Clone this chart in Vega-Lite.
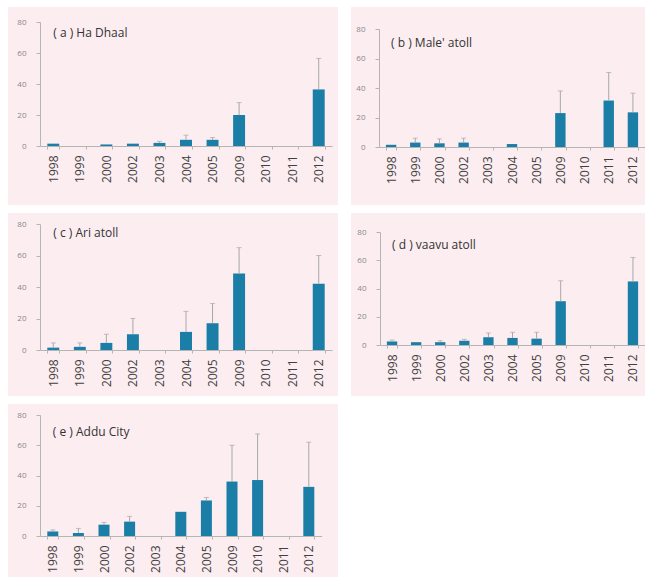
{
  "$schema": "https://vega.github.io/schema/vega-lite/v6.json",
  "padding": {"left": 2, "top": 7, "right": 0, "bottom": 0},
  "background": "white",
  "datasets": {
    "d": [
      {"panel": "a", "year": "1998", "value": 1.5, "err": null},
      {"panel": "a", "year": "2000", "value": 1, "err": null},
      {"panel": "a", "year": "2002", "value": 1.5, "err": null},
      {"panel": "a", "year": "2003", "value": 2, "err": 3},
      {"panel": "a", "year": "2004", "value": 4, "err": 7},
      {"panel": "a", "year": "2005", "value": 4, "err": 5.5},
      {"panel": "a", "year": "2009", "value": 20, "err": 28},
      {"panel": "a", "year": "2012", "value": 36.5, "err": 56.5},
      {"panel": "b", "year": "1998", "value": 1.5, "err": null},
      {"panel": "b", "year": "1999", "value": 3, "err": 6},
      {"panel": "b", "year": "2000", "value": 2.5, "err": 5.5},
      {"panel": "b", "year": "2002", "value": 3, "err": 6},
      {"panel": "b", "year": "2004", "value": 2, "err": null},
      {"panel": "b", "year": "2009", "value": 23, "err": 38},
      {"panel": "b", "year": "2011", "value": 31.5, "err": 50.5},
      {"panel": "b", "year": "2012", "value": 23.5, "err": 36.5},
      {"panel": "c", "year": "1998", "value": 1.5, "err": 4.5},
      {"panel": "c", "year": "1999", "value": 2, "err": 4.5},
      {"panel": "c", "year": "2000", "value": 4.5, "err": 10},
      {"panel": "c", "year": "2002", "value": 10, "err": 20},
      {"panel": "c", "year": "2004", "value": 11.5, "err": 24.5},
      {"panel": "c", "year": "2005", "value": 17, "err": 29.5},
      {"panel": "c", "year": "2009", "value": 48.5, "err": 65},
      {"panel": "c", "year": "2012", "value": 42, "err": 60},
      {"panel": "d", "year": "1998", "value": 2.5, "err": 3.5},
      {"panel": "d", "year": "1999", "value": 2, "err": null},
      {"panel": "d", "year": "2000", "value": 2, "err": 3},
      {"panel": "d", "year": "2002", "value": 3, "err": 4},
      {"panel": "d", "year": "2003", "value": 5.5, "err": 8.5},
      {"panel": "d", "year": "2004", "value": 5, "err": 9},
      {"panel": "d", "year": "2005", "value": 4.5, "err": 9},
      {"panel": "d", "year": "2009", "value": 31, "err": 45.5},
      {"panel": "d", "year": "2012", "value": 45, "err": 62},
      {"panel": "e", "year": "1998", "value": 3, "err": 4},
      {"panel": "e", "year": "1999", "value": 2, "err": 5},
      {"panel": "e", "year": "2000", "value": 7.5, "err": 9},
      {"panel": "e", "year": "2002", "value": 9.5, "err": 13},
      {"panel": "e", "year": "2004", "value": 16, "err": null},
      {"panel": "e", "year": "2005", "value": 23.5, "err": 25.5},
      {"panel": "e", "year": "2009", "value": 36, "err": 60},
      {"panel": "e", "year": "2010", "value": 37, "err": 67.5},
      {"panel": "e", "year": "2012", "value": 32.5, "err": 62}
    ]
  },
  "vconcat": [
    {
      "spacing": 7,
      "hconcat": [
        {
          "width": 330, "height": 198,
          "data": {"name": "d"},
          "transform": [{"filter": "datum.panel == 'a'"}],
          "encoding": {
            "x": {"field": "year", "type": "nominal", "title": null,
              "scale": {"domain": ["1998","1999","2000","2002","2003","2004","2005","2009","2010","2011","2012"], "range": [32, 324], "paddingInner": 0.55, "paddingOuter": 0.275},
              "axis": {"offset": -59, "labelAngle": -90, "labelFontSize": 12, "tickSize": 3, "tickBand": "extent", "labelPadding": 6}}
          },
          "layer": [
            {"mark": {"type": "bar", "color": "#1a7ea6"},
              "encoding": {"y": {"field": "value", "type": "quantitative", "title": null, "scale": {"domain": [0, 80], "range": [139, 15], "nice": false}, "axis": {"offset": -32, "values": [0,20,40,60,80], "tickSize": 4, "labelPadding": 10, "labelFontSize": 8, "labelColor": "#888"}}}},
            {"mark": {"type": "rule", "color": "#a8a8a8"},
              "encoding": {"y": {"field": "value", "type": "quantitative", "title": null}, "y2": {"field": "err"}}},
            {"mark": {"type": "tick", "color": "#a8a8a8", "size": 5, "thickness": 1},
              "encoding": {"y": {"field": "err", "type": "quantitative", "title": null}}},
            {"data": {"values": [{}]},
              "mark": {"type": "text", "align": "left", "baseline": "middle", "font": "Open Sans", "fontSize": 12, "color": "#333"},
              "encoding": {"x": {"datum": "1998"}, "y": {"datum": 72.9}, "text": {"value": "( a ) Ha Dhaal"}}}
          ]
        },
        {
          "width": 294, "height": 198,
          "data": {"name": "d"},
          "transform": [{"filter": "datum.panel == 'b'"}],
          "encoding": {
            "x": {"field": "year", "type": "nominal", "title": null,
              "scale": {"domain": ["1998","1999","2000","2002","2003","2004","2005","2009","2010","2011","2012"], "range": [28, 294], "paddingInner": 0.57, "paddingOuter": 0.285},
              "axis": {"offset": -58, "labelAngle": -90, "labelFontSize": 12, "tickSize": 3, "tickBand": "extent", "labelPadding": 6}}
          },
          "layer": [
            {"mark": {"type": "bar", "color": "#1a7ea6"},
              "encoding": {"y": {"field": "value", "type": "quantitative", "title": null, "scale": {"domain": [0, 80], "range": [140, 22], "nice": false}, "axis": {"offset": -28, "values": [0,20,40,60,80], "tickSize": 4, "labelPadding": 10, "labelFontSize": 8, "labelColor": "#888"}}}},
            {"mark": {"type": "rule", "color": "#a8a8a8"},
              "encoding": {"y": {"field": "value", "type": "quantitative", "title": null}, "y2": {"field": "err"}}},
            {"mark": {"type": "tick", "color": "#a8a8a8", "size": 5, "thickness": 1},
              "encoding": {"y": {"field": "err", "type": "quantitative", "title": null}}},
            {"data": {"values": [{}]},
              "mark": {"type": "text", "align": "left", "baseline": "middle", "font": "Open Sans", "fontSize": 12, "color": "#333"},
              "encoding": {"x": {"datum": "1998"}, "y": {"datum": 70.5}, "text": {"value": "( b ) Male' atoll"}}}
          ]
        }
      ]
    },
    {
      "spacing": 7,
      "hconcat": [
        {
          "width": 330, "height": 183,
          "data": {"name": "d"},
          "transform": [{"filter": "datum.panel == 'c'"}],
          "encoding": {
            "x": {"field": "year", "type": "nominal", "title": null,
              "scale": {"domain": ["1998","1999","2000","2002","2003","2004","2005","2009","2010","2011","2012"], "range": [32, 324], "paddingInner": 0.55, "paddingOuter": 0.275},
              "axis": {"offset": -46, "labelAngle": -90, "labelFontSize": 12, "tickSize": 3, "tickBand": "extent", "labelPadding": 6}}
          },
          "layer": [
            {"mark": {"type": "bar", "color": "#1a7ea6"},
              "encoding": {"y": {"field": "value", "type": "quantitative", "title": null, "scale": {"domain": [0, 80], "range": [137, 11], "nice": false}, "axis": {"offset": -32, "values": [0,20,40,60,80], "tickSize": 4, "labelPadding": 10, "labelFontSize": 8, "labelColor": "#888"}}}},
            {"mark": {"type": "rule", "color": "#a8a8a8"},
              "encoding": {"y": {"field": "value", "type": "quantitative", "title": null}, "y2": {"field": "err"}}},
            {"mark": {"type": "tick", "color": "#a8a8a8", "size": 5, "thickness": 1},
              "encoding": {"y": {"field": "err", "type": "quantitative", "title": null}}},
            {"data": {"values": [{}]},
              "mark": {"type": "text", "align": "left", "baseline": "middle", "font": "Open Sans", "fontSize": 12, "color": "#333"},
              "encoding": {"x": {"datum": "1998"}, "y": {"datum": 74.3}, "text": {"value": "( c ) Ari atoll"}}}
          ]
        },
        {
          "width": 294, "height": 183,
          "data": {"name": "d"},
          "transform": [{"filter": "datum.panel == 'd'"}],
          "encoding": {
            "x": {"field": "year", "type": "nominal", "title": null,
              "scale": {"domain": ["1998","1999","2000","2002","2003","2004","2005","2009","2010","2011","2012"], "range": [29, 294], "paddingInner": 0.57, "paddingOuter": 0.285},
              "axis": {"offset": -51, "labelAngle": -90, "labelFontSize": 12, "tickSize": 3, "tickBand": "extent", "labelPadding": 6}}
          },
          "layer": [
            {"mark": {"type": "bar", "color": "#1a7ea6"},
              "encoding": {"y": {"field": "value", "type": "quantitative", "title": null, "scale": {"domain": [0, 80], "range": [132, 19], "nice": false}, "axis": {"offset": -29, "values": [0,20,40,60,80], "tickSize": 4, "labelPadding": 10, "labelFontSize": 8, "labelColor": "#888"}}}},
            {"mark": {"type": "rule", "color": "#a8a8a8"},
              "encoding": {"y": {"field": "value", "type": "quantitative", "title": null}, "y2": {"field": "err"}}},
            {"mark": {"type": "tick", "color": "#a8a8a8", "size": 5, "thickness": 1},
              "encoding": {"y": {"field": "err", "type": "quantitative", "title": null}}},
            {"data": {"values": [{}]},
              "mark": {"type": "text", "align": "left", "baseline": "middle", "font": "Open Sans", "fontSize": 12, "color": "#333"},
              "encoding": {"x": {"datum": "1998"}, "y": {"datum": 70.8}, "text": {"value": "( d ) vaavu atoll"}}}
          ]
        }
      ]
    },
    {
      "width": 330, "height": 173,
      "data": {"name": "d"},
      "transform": [{"filter": "datum.panel == 'e'"}],
      "encoding": {
        "x": {"field": "year", "type": "nominal", "title": null,
          "scale": {"domain": ["1998","1999","2000","2002","2003","2004","2005","2009","2010","2011","2012"], "range": [32, 313.6], "paddingInner": 0.57, "paddingOuter": 0.285},
          "axis": {"offset": -41, "labelAngle": -90, "labelFontSize": 12, "tickSize": 3, "tickBand": "extent", "labelPadding": 6}}
      },
      "layer": [
        {"mark": {"type": "bar", "color": "#1a7ea6"},
          "encoding": {"y": {"field": "value", "type": "quantitative", "title": null, "scale": {"domain": [0, 80], "range": [132, 11], "nice": false}, "axis": {"offset": -32, "values": [0,20,40,60,80], "tickSize": 4, "labelPadding": 10, "labelFontSize": 8, "labelColor": "#888"}}}},
        {"mark": {"type": "rule", "color": "#a8a8a8"},
          "encoding": {"y": {"field": "value", "type": "quantitative", "title": null}, "y2": {"field": "err"}}},
        {"mark": {"type": "tick", "color": "#a8a8a8", "size": 5, "thickness": 1},
          "encoding": {"y": {"field": "err", "type": "quantitative", "title": null}}},
        {"data": {"values": [{}]},
          "mark": {"type": "text", "align": "left", "baseline": "middle", "font": "Open Sans", "fontSize": 12, "color": "#333"},
          "encoding": {"x": {"datum": "1998"}, "y": {"datum": 68.8}, "text": {"value": "( e ) Addu City"}}}
      ]
    }
  ],
  "spacing": 8,
  "config": {
    "view": {"stroke": null, "fill": "#fcedf1"},
    "axis": {"grid": false, "minExtent": 0, "domainColor": "#b5b5b5", "tickColor": "#b5b5b5", "labelColor": "#3f3f3f", "labelFont": "Open Sans", "titleFont": "Open Sans"}
  }
}
